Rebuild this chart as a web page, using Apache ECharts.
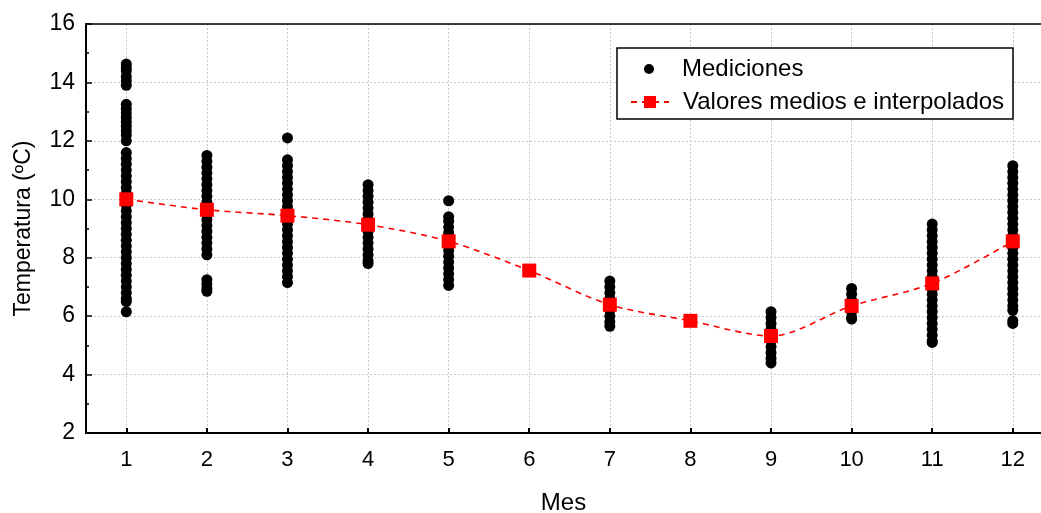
<!DOCTYPE html>
<html>
<head>
<meta charset="utf-8">
<script src="https://cdn.jsdelivr.net/npm/echarts@6.0.0/dist/echarts.min.js"></script>
<style>
  html, body { margin: 0; padding: 0; background: #fff; }
  #chart { width: 1041px; height: 513px; }
</style>
</head>
<body>
<div id="chart"></div>
<script>
// meses y valores medios (interpolados en 6 y 8)
var meses = [1, 2, 3, 4, 5, 6, 7, 8, 9, 10, 11, 12];
var medias = [10.0, 9.64, 9.44, 9.13, 8.56, 7.56, 6.39, 5.84, 5.32, 6.35, 7.12, 8.56];

// mediciones por mes
var m1 = [14.63, 14.5, 14.4, 14.2, 14.05, 13.9, 13.25, 13.1, 12.95, 12.8, 12.65, 12.5, 12.35, 12.2, 12.0,
  11.6, 11.4, 11.2, 11.0, 10.8, 10.6, 10.4, 10.2, 10.0, 9.8, 9.6, 9.4, 9.2, 9.0, 8.8, 8.6, 8.4, 8.2, 8.0,
  7.8, 7.6, 7.4, 7.2, 7.0, 6.8, 6.6, 6.5, 6.15];
var m2 = [11.5, 11.3, 11.1, 10.9, 10.7, 10.5, 10.3, 10.1, 9.9, 9.7, 9.5, 9.3, 9.1, 8.9, 8.7, 8.5, 8.3, 8.1,
  7.25, 7.1, 6.95, 6.85];
var m3 = [12.1, 11.35, 11.15, 10.95, 10.75, 10.55, 10.35, 10.15, 9.95, 9.75, 9.55, 9.35, 9.15, 8.95, 8.75,
  8.55, 8.35, 8.15, 7.95, 7.75, 7.55, 7.35, 7.15];
var m4 = [10.5, 10.3, 10.1, 9.9, 9.7, 9.5, 9.3, 9.1, 8.9, 8.7, 8.5, 8.3, 8.1, 7.9, 7.8];
var m5 = [9.95, 9.4, 9.25, 9.05, 8.85, 8.65, 8.45, 8.25, 8.05, 7.85, 7.65, 7.45, 7.25, 7.05];
var m6 = [];
var m7 = [7.2, 7.0, 6.8, 6.6, 6.4, 6.2, 6.0, 5.8, 5.65];
var m8 = [];
var m9 = [6.15, 5.95, 5.75, 5.55, 5.35, 5.15, 4.95, 4.75, 4.55, 4.4];
var m10 = [6.95, 6.75, 6.55, 6.35, 6.15, 5.95, 5.9];
var m11 = [9.15, 8.95, 8.75, 8.55, 8.35, 8.15, 7.95, 7.75, 7.55, 7.35, 7.15, 6.95, 6.75, 6.55, 6.35, 6.15,
  5.95, 5.75, 5.55, 5.35, 5.15, 5.1];
var m12 = [11.15, 10.95, 10.75, 10.55, 10.35, 10.15, 9.95, 9.75, 9.55, 9.35, 9.15, 8.95, 8.75, 8.55, 8.35,
  8.15, 7.95, 7.75, 7.55, 7.35, 7.15, 6.95, 6.75, 6.55, 6.35, 6.2, 5.85, 5.75];

var porMes = [m1, m2, m3, m4, m5, m6, m7, m8, m9, m10, m11, m12];
var puntos = [];
porMes.forEach(function (lista, i) {
  lista.forEach(function (v) { puntos.push([meses[i], v]); });
});
var lineaMedia = meses.map(function (m, i) { return [m, medias[i]]; });

var font = 'Liberation Sans, Arial, sans-serif';
var gridStyle = { color: '#c8c8c8', width: 1, type: [2, 2] };
var legendText = { fontSize: 24, color: '#000', fontFamily: font, lineHeight: 24, padding: [0, 0, 0, 9] };

var chart = echarts.init(document.getElementById('chart'));
chart.setOption({
  backgroundColor: '#ffffff',
  animation: false,
  grid: { left: 86, top: 24, right: 0, bottom: 80, outerBoundsMode: 'none', containLabel: false },
  xAxis: [{
    type: 'value',
    min: 0.5,
    max: 12.35,
    name: 'Mes',
    nameLocation: 'middle',
    nameGap: 58,
    nameTextStyle: { fontSize: 24, color: '#000', fontFamily: font },
    axisLine: { show: true, lineStyle: { color: '#000', width: 2 } },
    axisTick: { show: true, inside: true, length: 5, customValues: meses, lineStyle: { color: '#000', width: 2 } },
    axisLabel: { customValues: meses, fontSize: 22, color: '#000', fontFamily: font, margin: 16 },
    splitLine: { show: true, lineStyle: gridStyle }
  }, {
    // borde superior del marco
    type: 'value',
    position: 'top',
    min: 0.5,
    max: 12.35,
    axisLine: { show: true, lineStyle: { color: '#000', width: 1.5 } },
    axisTick: { show: false },
    axisLabel: { show: false },
    splitLine: { show: false }
  }],
  yAxis: {
    type: 'value',
    min: 2,
    max: 16,
    interval: 2,
    name: 'Temperatura (ºC)',
    nameLocation: 'middle',
    nameGap: 51,
    nameTextStyle: { fontSize: 23, color: '#000', fontFamily: font },
    axisLine: { show: true, lineStyle: { color: '#000', width: 2 } },
    axisTick: { show: true, inside: true, length: 6, lineStyle: { color: '#000', width: 1.5 } },
    minorTick: { show: true, splitNumber: 2, length: 3, lineStyle: { color: '#000', width: 1.5 } },
    axisLabel: { fontSize: 23, color: '#000', fontFamily: font, margin: 11 },
    splitLine: { show: true, lineStyle: gridStyle }
  },
  graphic: [{
    type: 'rect',
    z: 3,
    shape: { x: 617, y: 48, width: 396, height: 71 },
    style: { fill: '#fff', stroke: '#000', lineWidth: 1.5 }
  }],
  legend: [{
    data: ['Mediciones'],
    left: 644, top: 57,
    padding: 0,
    itemWidth: 38, itemHeight: 10,
    icon: 'circle',
    textStyle: legendText
  }, {
    data: ['Valores medios e interpolados'],
    left: 630, top: 90,
    padding: 0,
    itemWidth: 38, itemHeight: 15,
    textStyle: legendText
  }],
  series: [{
    name: 'Mediciones',
    type: 'scatter',
    symbol: 'circle',
    symbolSize: 11,
    itemStyle: { color: '#000', opacity: 1 },
    data: puntos,
    z: 2
  }, {
    name: 'Valores medios e interpolados',
    type: 'line',
    smooth: 0.3,
    symbol: 'rect',
    symbolSize: 14,
    itemStyle: { color: '#ff0000' },
    lineStyle: { color: '#ff0000', width: 1.6, type: [6, 5] },
    data: lineaMedia,
    z: 3
  }]
});
</script>
</body>
</html>
